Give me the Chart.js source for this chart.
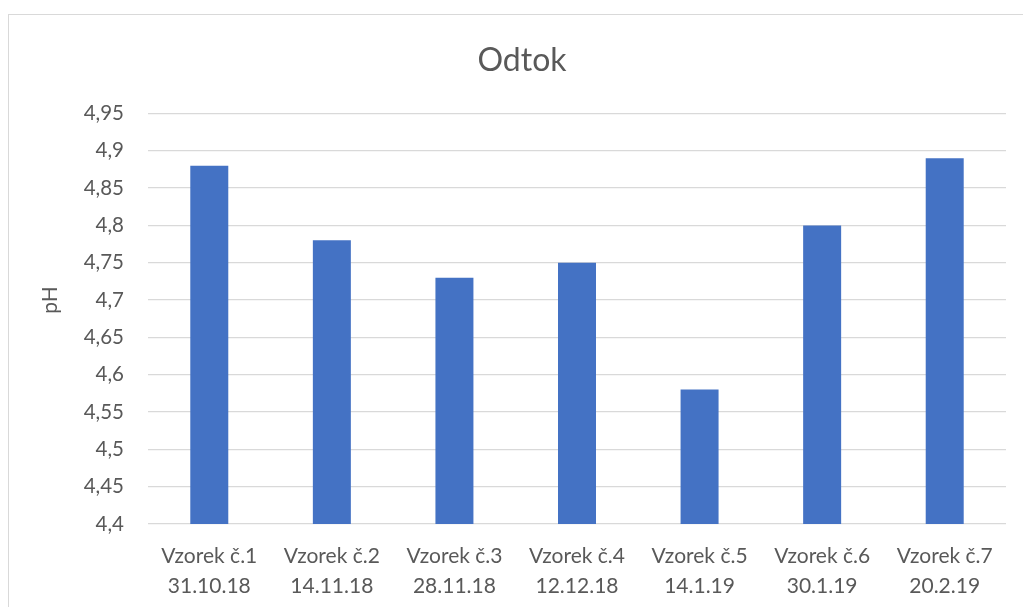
<!DOCTYPE html>
<html>
<head>
<meta charset="utf-8">
<script src="https://cdn.jsdelivr.net/npm/chart.js@4"></script>
<style>
  html, body { margin: 0; padding: 0; background: #fff; overflow: hidden; }
  #frame { position: absolute; left: 8px; top: 14px; width: 1100px; height: 700px; border: 1.5px solid #d9d9d9; }
  #chart { position: absolute; left: 0; top: 0; }
</style>
</head>
<body>
<div id="frame"></div>
<canvas id="chart" width="1023" height="607"></canvas>
<script>
// Samples and measured pH values
const samples = ['Vzorek č.1', 'Vzorek č.2', 'Vzorek č.3', 'Vzorek č.4', 'Vzorek č.5', 'Vzorek č.6', 'Vzorek č.7'];
const dates = ['31.10.18', '14.11.18', '28.11.18', '12.12.18', '14.1.19', '30.1.19', '20.2.19'];
const phValues = [4.88, 4.78, 4.73, 4.75, 4.58, 4.80, 4.89];

const textColor = '#595959';
const gridColor = '#d9d9d9';
const fontFamily = 'Lato, "Open Sans", sans-serif';

const labels = samples.map((s, i) => [s, dates[i]]);

const ctx = document.getElementById('chart').getContext('2d');
new Chart(ctx, {
    type: 'bar',
    data: {
        labels: labels,
        datasets: [{
            label: 'pH',
            data: phValues,
            backgroundColor: '#4472c4',
            categoryPercentage: 1,
            barPercentage: 0.31
        }]
    },
    options: {
        responsive: false,
        animation: false,
        layout: { padding: { left: 38, right: 17, top: 0, bottom: 0 } },
        plugins: {
            legend: { display: false },
            tooltip: { enabled: false },
            title: {
                display: true,
                text: 'Odtok',
                color: textColor,
                font: { family: fontFamily, size: 32, weight: 'normal' },
                padding: { top: 41, bottom: 34 }
            }
        },
        scales: {
            x: {
                grid: { display: false },
                border: { display: false },
                ticks: {
                    color: textColor,
                    font: { family: fontFamily, size: 21, lineHeight: 1.43 },
                    padding: 9,
                    maxRotation: 0,
                    autoSkip: false
                },
                afterFit: scale => { scale.height = 83; }
            },
            y: {
                min: 4.4,
                max: 4.95,
                grid: { color: gridColor, lineWidth: 1.3, drawTicks: false },
                border: { display: false },
                ticks: {
                    stepSize: 0.05,
                    color: textColor,
                    padding: 24,
                    font: { family: fontFamily, size: 20.5 },
                    callback: v => Number(v.toFixed(2)).toString().replace('.', ',')
                },
                title: {
                    display: true,
                    text: '       pH',
                    color: textColor,
                    font: { family: fontFamily, size: 21 },
                    padding: { top: 0, bottom: 0 }
                },
                afterFit: scale => { scale.width = 110; }
            }
        }
    }
});
</script>
</body>
</html>
